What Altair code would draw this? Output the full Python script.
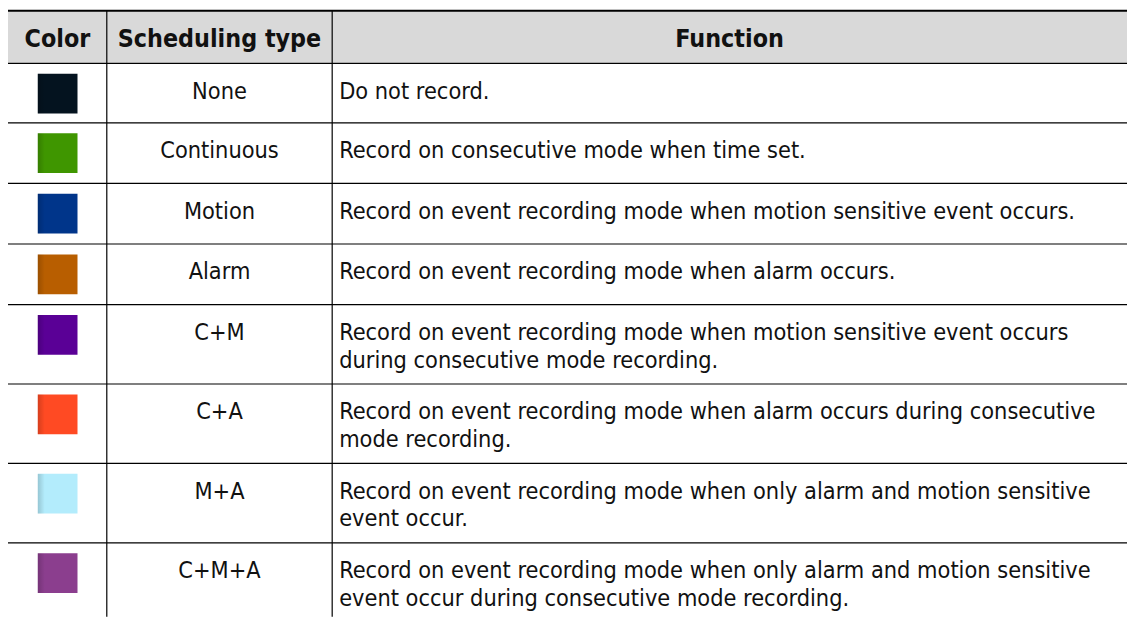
import altair as alt
import pandas as pd

# ---- data ----
headers = ["Color", "Scheduling type", "Function"]
swatch_colors = ["#04131f", "#3f9600", "#00358a", "#b85e00",
                 "#5a0096", "#ff4a23", "#b3ecfc", "#8b3e8e"]
sched_types = ["None", "Continuous", "Motion", "Alarm",
               "C+M", "C+A", "M+A", "C+M+A"]
functions = [
    "Do not record.",
    "Record on consecutive mode when time set.",
    "Record on event recording mode when motion sensitive event occurs.",
    "Record on event recording mode when alarm occurs.",
    "Record on event recording mode when motion sensitive event occurs\nduring consecutive mode recording.",
    "Record on event recording mode when alarm occurs during consecutive\nmode recording.",
    "Record on event recording mode when only alarm and motion sensitive\nevent occur.",
    "Record on event recording mode when only alarm and motion sensitive\nevent occur during consecutive mode recording.",
]

# ---- layout ----
W, H = 1128, 611
col_edges = [0, 99.5, 326.5, 1127]
header_h = 53
row_h = [60, 61, 61, 61, 80, 80, 80, 80]
FONT = "DejaVu Sans Condensed"
FS = 23.5
HFS = 25

tops = []
t = header_h
for h in row_h:
    tops.append(t)
    t += h

xs = alt.Scale(domain=[0, W], nice=False, zero=False)
ys = alt.Scale(domain=[0, H], nice=False, zero=False, reverse=True)

def X(f="x"):
    return alt.X(f"{f}:Q", scale=xs, axis=None)

def Y(f="y"):
    return alt.Y(f"{f}:Q", scale=ys, axis=None)

hdr_bg = alt.Chart(pd.DataFrame({"x": [0], "x2": [col_edges[-1]], "y": [0], "y2": [header_h]})).mark_rect(
    color="#d9d9d9").encode(x=X(), x2="x2:Q", y=Y(), y2="y2:Q")

top_border = alt.Chart(pd.DataFrame({"x": [0], "x2": [col_edges[-1]], "y": [0.6]})).mark_rule(
    color="#000000", strokeWidth=2.0).encode(x=X(), x2="x2:Q", y=Y())

hlines = alt.Chart(pd.DataFrame({"x": [0] * len(tops), "x2": [col_edges[-1]] * len(tops),
                                 "y": [tp + 0.5 for tp in tops]})).mark_rule(
    color="#000000", strokeWidth=1.2).encode(x=X(), x2="x2:Q", y=Y())

vlines = alt.Chart(pd.DataFrame({"x": col_edges[1:3], "y": [0, 0], "y2": [H, H]})).mark_rule(
    color="#000000", strokeWidth=1.2).encode(x=X(), y=Y(), y2="y2:Q")

sw = pd.DataFrame({
    "x": [30] * 8, "x2": [70] * 8, "xs": [37] * 8,
    "y": [tp + 11 for tp in tops], "y2": [tp + 51 for tp in tops],
    "c": swatch_colors,
})
swatches = alt.Chart(sw).mark_rect().encode(
    x=X(), x2="x2:Q", y=Y(), y2="y2:Q", color=alt.Color("c:N", scale=None, legend=None))

shade = alt.Chart(sw).mark_rect(
    color=alt.Gradient(
        gradient="linear", x1=0, x2=1, y1=0, y2=0,
        stops=[alt.GradientStop(offset=0, color="rgba(0,0,0,0.16)"),
               alt.GradientStop(offset=1, color="rgba(0,0,0,0)")],
    )
).encode(x=X(), x2="xs:Q", y=Y(), y2="y2:Q")

hdr_df = pd.DataFrame({
    "x": [(col_edges[i] + col_edges[i + 1]) / 2 for i in range(3)],
    "y": [37.5] * 3, "t": headers,
})
hdr_text = alt.Chart(hdr_df).mark_text(
    align="center", baseline="alphabetic", font=FONT, fontSize=HFS, fontWeight="bold", color="#111111"
).encode(x=X(), y=Y(), text="t:N")

type_df = pd.DataFrame({
    "x": [(col_edges[1] + col_edges[2]) / 2] * 8,
    "y": [tp + 36 for tp in tops], "t": sched_types,
})
type_text = alt.Chart(type_df).mark_text(
    align="center", baseline="alphabetic", font=FONT, fontSize=FS, color="#111111"
).encode(x=X(), y=Y(), text="t:N")

func_df = pd.DataFrame({
    "x": [col_edges[2] + 7] * 8,
    "y": [tp + 36 for tp in tops], "t": functions,
})
func_text = alt.Chart(func_df).mark_text(
    align="left", baseline="alphabetic", font=FONT, fontSize=FS, color="#111111",
    lineBreak="\n", lineHeight=28
).encode(x=X(), y=Y(), text="t:N")

chart = alt.layer(
    hdr_bg, swatches, shade, hlines, vlines, top_border, hdr_text, type_text, func_text
).properties(
    width=W, height=H, padding=0,
    autosize=alt.AutoSizeParams(type="none"),
).configure_view(stroke=None)

chart.save("out.html", embed_options={"renderer": "svg", "actions": False})
